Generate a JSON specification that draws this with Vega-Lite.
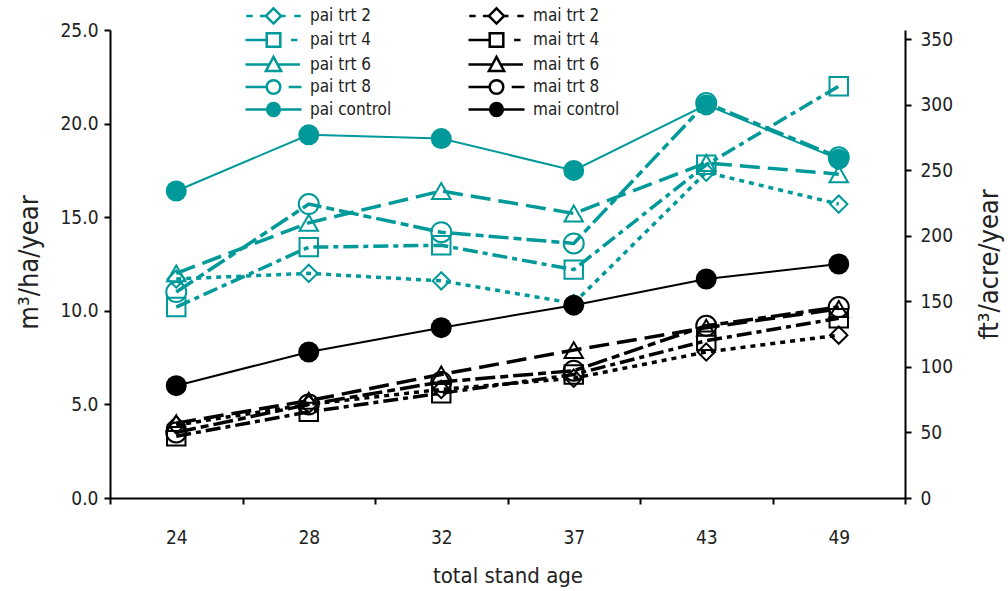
{
  "$schema": "https://vega.github.io/schema/vega-lite/v6.json",
  "width": 795,
  "height": 468,
  "autosize": {"type": "none"},
  "padding": {"left": 110, "top": 30, "right": 103, "bottom": 93},
  "config": {
    "view": {"stroke": null},
    "font": "DejaVu Sans Condensed, Liberation Sans Narrow, Liberation Sans, sans-serif",
    "axis": {
      "domainColor": "#000000", "domainWidth": 2, "tickColor": "#000000", "tickWidth": 2, "tickSize": 6,
      "labelFont": "DejaVu Sans Condensed, Liberation Sans Narrow, Liberation Sans, sans-serif",
      "labelFontSize": 19, "labelColor": "#222222",
      "titleFont": "DejaVu Sans Condensed, Liberation Sans Narrow, Liberation Sans, sans-serif",
      "titleFontSize": 22, "titleFontWeight": "normal", "titleColor": "#222222", "grid": false
    },
    "legend": {
      "labelFont": "DejaVu Sans Condensed, Liberation Sans Narrow, Liberation Sans, sans-serif"
    }
  },
  "datasets": {
    "main": [
      {"series": "pai trt 2", "group": "pai", "trt": "trt 2", "age": 24, "value": 11.7},
      {"series": "pai trt 2", "group": "pai", "trt": "trt 2", "age": 28, "value": 12.0},
      {"series": "pai trt 2", "group": "pai", "trt": "trt 2", "age": 32, "value": 11.6},
      {"series": "pai trt 2", "group": "pai", "trt": "trt 2", "age": 37, "value": 10.4},
      {"series": "pai trt 2", "group": "pai", "trt": "trt 2", "age": 43, "value": 17.4},
      {"series": "pai trt 2", "group": "pai", "trt": "trt 2", "age": 49, "value": 15.7},
      {"series": "pai trt 4", "group": "pai", "trt": "trt 4", "age": 24, "value": 10.2},
      {"series": "pai trt 4", "group": "pai", "trt": "trt 4", "age": 28, "value": 13.4},
      {"series": "pai trt 4", "group": "pai", "trt": "trt 4", "age": 32, "value": 13.5},
      {"series": "pai trt 4", "group": "pai", "trt": "trt 4", "age": 37, "value": 12.2},
      {"series": "pai trt 4", "group": "pai", "trt": "trt 4", "age": 43, "value": 17.8},
      {"series": "pai trt 4", "group": "pai", "trt": "trt 4", "age": 49, "value": 22.0},
      {"series": "pai trt 6", "group": "pai", "trt": "trt 6", "age": 24, "value": 12.0},
      {"series": "pai trt 6", "group": "pai", "trt": "trt 6", "age": 28, "value": 14.7},
      {"series": "pai trt 6", "group": "pai", "trt": "trt 6", "age": 32, "value": 16.4},
      {"series": "pai trt 6", "group": "pai", "trt": "trt 6", "age": 37, "value": 15.2},
      {"series": "pai trt 6", "group": "pai", "trt": "trt 6", "age": 43, "value": 17.9},
      {"series": "pai trt 6", "group": "pai", "trt": "trt 6", "age": 49, "value": 17.3},
      {"series": "pai trt 8", "group": "pai", "trt": "trt 8", "age": 24, "value": 11.0},
      {"series": "pai trt 8", "group": "pai", "trt": "trt 8", "age": 28, "value": 15.7},
      {"series": "pai trt 8", "group": "pai", "trt": "trt 8", "age": 32, "value": 14.2},
      {"series": "pai trt 8", "group": "pai", "trt": "trt 8", "age": 37, "value": 13.6},
      {"series": "pai trt 8", "group": "pai", "trt": "trt 8", "age": 43, "value": 21.1},
      {"series": "pai trt 8", "group": "pai", "trt": "trt 8", "age": 49, "value": 18.2},
      {"series": "pai control", "group": "pai", "trt": "control", "age": 24, "value": 16.4},
      {"series": "pai control", "group": "pai", "trt": "control", "age": 28, "value": 19.4},
      {"series": "pai control", "group": "pai", "trt": "control", "age": 32, "value": 19.2},
      {"series": "pai control", "group": "pai", "trt": "control", "age": 37, "value": 17.5},
      {"series": "pai control", "group": "pai", "trt": "control", "age": 43, "value": 21.0},
      {"series": "pai control", "group": "pai", "trt": "control", "age": 49, "value": 18.1},
      {"series": "mai trt 2", "group": "mai", "trt": "trt 2", "age": 24, "value": 3.9},
      {"series": "mai trt 2", "group": "mai", "trt": "trt 2", "age": 28, "value": 5.0},
      {"series": "mai trt 2", "group": "mai", "trt": "trt 2", "age": 32, "value": 5.8},
      {"series": "mai trt 2", "group": "mai", "trt": "trt 2", "age": 37, "value": 6.4},
      {"series": "mai trt 2", "group": "mai", "trt": "trt 2", "age": 43, "value": 7.8},
      {"series": "mai trt 2", "group": "mai", "trt": "trt 2", "age": 49, "value": 8.7},
      {"series": "mai trt 4", "group": "mai", "trt": "trt 4", "age": 24, "value": 3.3},
      {"series": "mai trt 4", "group": "mai", "trt": "trt 4", "age": 28, "value": 4.6},
      {"series": "mai trt 4", "group": "mai", "trt": "trt 4", "age": 32, "value": 5.6},
      {"series": "mai trt 4", "group": "mai", "trt": "trt 4", "age": 37, "value": 6.6},
      {"series": "mai trt 4", "group": "mai", "trt": "trt 4", "age": 43, "value": 8.4},
      {"series": "mai trt 4", "group": "mai", "trt": "trt 4", "age": 49, "value": 9.6},
      {"series": "mai trt 6", "group": "mai", "trt": "trt 6", "age": 24, "value": 4.0},
      {"series": "mai trt 6", "group": "mai", "trt": "trt 6", "age": 28, "value": 5.2},
      {"series": "mai trt 6", "group": "mai", "trt": "trt 6", "age": 32, "value": 6.6},
      {"series": "mai trt 6", "group": "mai", "trt": "trt 6", "age": 37, "value": 7.9},
      {"series": "mai trt 6", "group": "mai", "trt": "trt 6", "age": 43, "value": 9.1},
      {"series": "mai trt 6", "group": "mai", "trt": "trt 6", "age": 49, "value": 10.1},
      {"series": "mai trt 8", "group": "mai", "trt": "trt 8", "age": 24, "value": 3.5},
      {"series": "mai trt 8", "group": "mai", "trt": "trt 8", "age": 28, "value": 5.0},
      {"series": "mai trt 8", "group": "mai", "trt": "trt 8", "age": 32, "value": 6.2},
      {"series": "mai trt 8", "group": "mai", "trt": "trt 8", "age": 37, "value": 6.8},
      {"series": "mai trt 8", "group": "mai", "trt": "trt 8", "age": 43, "value": 9.2},
      {"series": "mai trt 8", "group": "mai", "trt": "trt 8", "age": 49, "value": 10.2},
      {"series": "mai control", "group": "mai", "trt": "control", "age": 24, "value": 6.0},
      {"series": "mai control", "group": "mai", "trt": "control", "age": 28, "value": 7.8},
      {"series": "mai control", "group": "mai", "trt": "control", "age": 32, "value": 9.1},
      {"series": "mai control", "group": "mai", "trt": "control", "age": 37, "value": 10.3},
      {"series": "mai control", "group": "mai", "trt": "control", "age": 43, "value": 11.7},
      {"series": "mai control", "group": "mai", "trt": "control", "age": 49, "value": 12.5}
    ]
  },
  "layer": [
    {
      "data": {"name": "main"},
      "layer": [
        {
          "transform": [{"filter": "datum.trt !== 'control'"}],
          "mark": {"type": "line", "strokeWidth": 3.5},
          "encoding": {
            "x": {"field": "age", "type": "ordinal", "scale": {"type": "band", "paddingInner": 0, "paddingOuter": 0},
              "axis": {"title": "total stand age", "labelAngle": 0, "tickBand": "extent", "labelPadding": 24, "titlePadding": 18}},
            "y": {"field": "value", "type": "quantitative", "scale": {"domain": [0, 25], "nice": false, "zero": true},
              "axis": {"title": "m³/ha/year", "values": [0, 5, 10, 15, 20, 25], "format": ".1f", "labelPadding": 6, "titleFontSize": 27,
                "titleX": -73, "titleY": 232, "titleAngle": 270, "titleAlign": "center", "titleBaseline": "alphabetic"}},
            "stroke": {"field": "group", "type": "nominal", "scale": {"domain": ["pai", "mai"], "range": ["#009999", "#000000"]}, "legend": null},
            "strokeDash": {"field": "trt", "type": "nominal", "scale": {"domain": ["trt 2", "trt 4", "trt 6", "trt 8"], "range": [[5, 5], [15, 5, 5, 5], [20, 8], [20, 5, 8, 5]]}, "legend": null},
            "detail": {"field": "series"}
          }
        },
        {
          "transform": [{"filter": "datum.trt === 'control'"}],
          "mark": {"type": "line", "strokeWidth": 2},
          "encoding": {
            "x": {"field": "age", "type": "ordinal"},
            "y": {"field": "value", "type": "quantitative"},
            "stroke": {"field": "group", "type": "nominal", "legend": null}
          }
        },
        {
          "transform": [{"filter": "datum.trt === 'trt 2'"}],
          "mark": {"type": "point", "shape": "diamond", "filled": false, "strokeWidth": 2, "size": 300, "opacity": 1},
          "encoding": {
            "x": {"field": "age", "type": "ordinal"},
            "y": {"field": "value", "type": "quantitative"},
            "stroke": {"field": "group", "type": "nominal", "legend": null}
          }
        },
        {
          "transform": [{"filter": "datum.trt === 'trt 4'"}],
          "mark": {"type": "point", "shape": "square", "filled": false, "strokeWidth": 2, "size": 340, "opacity": 1},
          "encoding": {
            "x": {"field": "age", "type": "ordinal"},
            "y": {"field": "value", "type": "quantitative"},
            "stroke": {"field": "group", "type": "nominal", "legend": null}
          }
        },
        {
          "transform": [{"filter": "datum.trt === 'trt 6'"}],
          "mark": {"type": "point", "shape": "triangle-up", "filled": false, "strokeWidth": 2, "size": 340, "opacity": 1},
          "encoding": {
            "x": {"field": "age", "type": "ordinal"},
            "y": {"field": "value", "type": "quantitative"},
            "stroke": {"field": "group", "type": "nominal", "legend": null}
          }
        },
        {
          "transform": [{"filter": "datum.trt === 'trt 8'"}],
          "mark": {"type": "point", "shape": "circle", "filled": false, "strokeWidth": 2, "size": 400, "opacity": 1},
          "encoding": {
            "x": {"field": "age", "type": "ordinal"},
            "y": {"field": "value", "type": "quantitative"},
            "stroke": {"field": "group", "type": "nominal", "legend": null}
          }
        },
        {
          "transform": [{"filter": "datum.trt === 'control'"}],
          "mark": {"type": "point", "shape": "circle", "filled": true, "strokeWidth": 0, "size": 441, "opacity": 1},
          "encoding": {
            "x": {"field": "age", "type": "ordinal"},
            "y": {"field": "value", "type": "quantitative"},
            "fill": {"field": "group", "type": "nominal", "scale": {"domain": ["pai", "mai"], "range": ["#009999", "#000000"]}, "legend": null}
          }
        },
        {
          "transform": [{"filter": "false"}],
          "mark": {"type": "point", "filled": false, "strokeWidth": 2.5},
          "encoding": {
            "color": {"field": "series", "type": "nominal",
              "scale": {"domain": ["pai trt 2", "pai trt 4", "pai trt 6", "pai trt 8", "pai control", "mai trt 2", "mai trt 4", "mai trt 6", "mai trt 8", "mai control"],
                "range": ["#009999", "#009999", "#009999", "#009999", "#009999", "#000000", "#000000", "#000000", "#000000", "#000000"]},
              "legend": {"title": null, "orient": "none", "legendX": 154, "legendY": -24, "columns": 2, "symbolSize": 256, "symbolStrokeWidth": 2.5, "symbolOpacity": 1,
                "labelFontSize": 17, "labelColor": "#222222", "labelOffset": 27, "rowPadding": -1.5, "columnPadding": 71}},
            "shape": {"field": "series", "type": "nominal",
              "scale": {"domain": ["pai trt 2", "pai trt 4", "pai trt 6", "pai trt 8", "pai control", "mai trt 2", "mai trt 4", "mai trt 6", "mai trt 8", "mai control"],
                "range": [
                  "M-3.4,0H-2.6M-1.7,0H-0.95M0,-0.95L0.95,0L0,0.95L-0.95,0ZM0.95,0H1.5M2.6,0H3.4",
                  "M-3.5,0H-0.9M-0.85,-0.85H0.85V0.85H-0.85ZM2.2,0H3",
                  "M-3.5,0H-0.6M0,-0.95L0.95,0.8L-0.95,0.8ZM0.6,0H3.3",
                  "M-3.5,0H-0.9M0.85,0A0.85,0.85,0,1,1,-0.85,0A0.85,0.85,0,1,1,0.85,0M1.9,0H3.5",
                  "M-3.5,0H3.5M0.8,0A0.8,0.8,0,1,1,-0.8,0A0.8,0.8,0,1,1,0.8,0M0.55,0A0.55,0.55,0,1,1,-0.55,0A0.55,0.55,0,1,1,0.55,0M0.3,0A0.3,0.3,0,1,1,-0.3,0A0.3,0.3,0,1,1,0.3,0M0.08,0A0.08,0.08,0,1,1,-0.08,0A0.08,0.08,0,1,1,0.08,0",
                  "M-3.4,0H-2.6M-1.7,0H-0.95M0,-0.95L0.95,0L0,0.95L-0.95,0ZM0.95,0H1.5M2.6,0H3.4",
                  "M-3.5,0H-0.9M-0.85,-0.85H0.85V0.85H-0.85ZM2.2,0H3",
                  "M-3.5,0H-0.6M0,-0.95L0.95,0.8L-0.95,0.8ZM0.6,0H3.3",
                  "M-3.5,0H-0.9M0.85,0A0.85,0.85,0,1,1,-0.85,0A0.85,0.85,0,1,1,0.85,0M1.9,0H3.5",
                  "M-3.5,0H3.5M0.8,0A0.8,0.8,0,1,1,-0.8,0A0.8,0.8,0,1,1,0.8,0M0.55,0A0.55,0.55,0,1,1,-0.55,0A0.55,0.55,0,1,1,0.55,0M0.3,0A0.3,0.3,0,1,1,-0.3,0A0.3,0.3,0,1,1,0.3,0M0.08,0A0.08,0.08,0,1,1,-0.08,0A0.08,0.08,0,1,1,0.08,0"
                ]},
              "legend": {"title": null, "orient": "none", "legendX": 154, "legendY": -24, "columns": 2, "symbolSize": 256, "symbolStrokeWidth": 2.5, "symbolOpacity": 1,
                "labelFontSize": 17, "labelColor": "#222222", "labelOffset": 27, "rowPadding": -1.5, "columnPadding": 71}}
          }
        }
      ]
    },
    {
      "data": {"values": [{"ft": 0}, {"ft": 350}]},
      "mark": {"type": "point", "opacity": 0},
      "encoding": {
        "y": {"field": "ft", "type": "quantitative", "scale": {"domain": [0, 357.14], "nice": false},
          "axis": {"orient": "right", "title": "ft³/acre/year", "values": [0, 50, 100, 150, 200, 250, 300, 350], "format": "d", "labelPadding": 9, "titleFontSize": 27,
            "titleX": 92, "titleY": 234, "titleAngle": 270, "titleAlign": "center", "titleBaseline": "alphabetic"}}
      }
    }
  ],
  "resolve": {"scale": {"y": "independent"}}
}
